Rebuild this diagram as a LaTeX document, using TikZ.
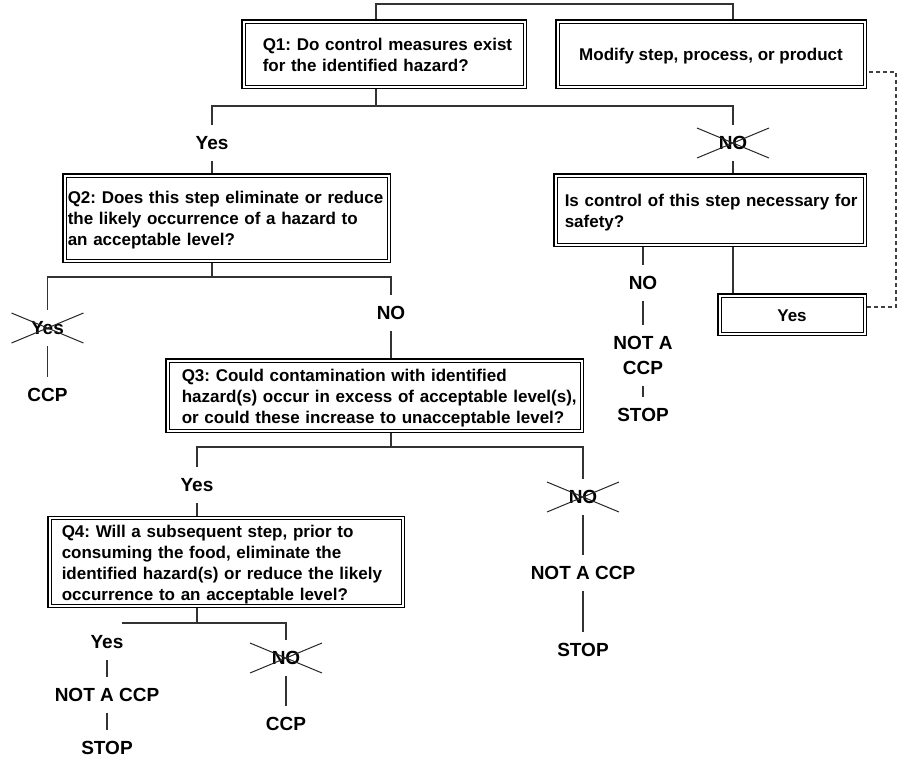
\documentclass[tikz,border=0pt]{standalone}
\usepackage{fontspec}
\setmainfont{Liberation Sans}
\newcommand\boxfont{\fontsize{17}{21}\selectfont\bfseries\frenchspacing}
\newcommand\lblfont{\fontsize{19}{23}\selectfont\bfseries}
\newcommand\lines[1]{\raisebox{-2.5pt}[\height][\depth]{\begin{tabular}{@{}l@{}}#1\end{tabular}}}
\begin{document}
\begin{tikzpicture}[x=1pt,y=-1pt,
  box/.style={draw=black, line width=1.5pt, fill=white, font=\boxfont, align=left,
    path picture={\draw[line width=0.8pt] ([shift={(3.2pt,-3.2pt)}]path picture bounding box.north west) rectangle ([shift={(-3.2pt,3.2pt)}]path picture bounding box.south east);}},
  lbl/.style={font=\lblfont, text height=13.5pt, text depth=0pt, inner xsep=1pt, inner ysep=0pt, minimum height=36pt},
  conn/.style={draw=black!80, line width=1.1pt},
  dashconn/.style={draw=black!75, line width=1.1pt, dash pattern=on 4pt off 3pt},
  xline/.style={draw=black!85, line width=1pt}]
\useasboundingbox (0,0) rectangle (898,758);
\newcommand\crossout[1]{\draw[xline] (#1.center) +(-36,-15) -- +(36,15) +(-36,15) -- +(36,-15);}

% boxes
\node[box, minimum width=284.5pt, minimum height=68.5pt, text width=242.5pt, inner xsep=21pt] (q1) at (384,54)
  {\lines{Q1: Do control measures exist\\for the identified hazard?}};
\node[box, minimum width=310.5pt, minimum height=68.5pt, align=center] (mod) at (711,54)
  {\lines{Modify step, process, or product}};
\node[box, minimum width=327.5pt, minimum height=88.5pt, text width=317.5pt, inner xsep=5pt] (q2) at (226.5,218)
  {\lines{Q2: Does this step eliminate or reduce\\the likely occurrence of a hazard to\\an acceptable level?}};
\node[box, minimum width=312.5pt, minimum height=72.5pt, text width=290.5pt, inner xsep=11pt] (saf) at (710,210)
  {\lines{Is control of this step necessary for\\safety?}};
\node[box, minimum width=148.5pt, minimum height=41.5pt, align=center] (ybox) at (792,314.5) {\lines{Yes}};
\node[box, minimum width=417.5pt, minimum height=73.5pt, text width=385.5pt, inner xsep=16pt] (q3) at (374.5,395.5)
  {\lines{Q3: Could contamination with identified\\hazard(s) occur in excess of acceptable level(s),\\or could these increase to unacceptable level?}};
\node[box, minimum width=356.5pt, minimum height=90.5pt, text width=328.5pt, inner xsep=14pt] (q4) at (226,562)
  {\lines{Q4: Will a subsequent step, prior to\\consuming the food, eliminate the\\identified hazard(s) or reduce the likely\\occurrence to an acceptable level?}};

% labels
\node[lbl] (yes1) at (212,143) {Yes};
\node[lbl] (no1) at (733,143) {NO};
\node[lbl] (yes2) at (47.5,328) {Yes};
\node[lbl] (ccp1) at (47.5,395) {CCP};
\node[lbl] (no2) at (391,313) {NO};
\node[lbl] (no3) at (643,283) {NO};
\node[lbl] (na3) at (643,343) {NOT A};
\node[lbl] (cc3) at (643,368) {CCP};
\node[lbl] (stop3) at (643,415) {STOP};
\node[lbl] (yes3) at (197,485) {Yes};
\node[lbl] (no4) at (583,497) {NO};
\node[lbl] (na4) at (583,573) {NOT A CCP};
\node[lbl] (stop4) at (583,650) {STOP};
\node[lbl] (no5) at (286,658) {NO};
\node[lbl] (ccp5) at (286,724) {CCP};
\node[lbl] (yes4) at (107,642) {Yes};
\node[lbl] (na6) at (107,695) {NOT A CCP};
\node[lbl] (stop6) at (107,748) {STOP};

\crossout{no1}
\crossout{yes2}
\crossout{no4}
\crossout{no5}

% coordinates
\coordinate (t1) at (376,4);
\coordinate (t2) at (733,4);
\coordinate (b1) at (376,106);
\coordinate (b2) at (212,277);
\coordinate (s1) at (733,0);
\coordinate (d0) at (896,307);
\coordinate (d1) at (896,72);
\coordinate (b3) at (391,447);
\coordinate (b4) at (197,623);
\coordinate (e4) at (122,623);

% connectors
\draw[conn] (q1.north -| t1) -- (t1) -- (t2) -- (mod.north -| t2);
\draw[conn] (q1.south -| b1) -- (b1);
\draw[conn] (yes1.north) |- (b1) -| (no1.north);
\draw[conn] (yes1.south) -- (q2.north -| yes1);
\draw[conn] (no1.south) -- (saf.north -| no1);

\draw[conn] (q2.south -| b2) -- (b2);
\draw[conn] (yes2.north) |- (b2) -| (no2.north);
\draw[conn] (yes2.south) -- (ccp1.north);
\draw[conn] (no2.south) -- (q3.north -| no2);

\draw[conn] (saf.south -| no3) -- (no3.north);
\draw[conn] (no3.south) -- (na3.north);
\draw[conn] (cc3.south) -- (stop3.north);
\draw[conn] (saf.south -| s1) -- (ybox.north -| s1);
\draw[dashconn] (ybox.east |- d0) -- (d0) -- (d1) -- (mod.east |- d1);

\draw[conn] (q3.south -| b3) -- (b3);
\draw[conn] (yes3.north) |- (b3) -| (no4.north);
\draw[conn] (yes3.south) -- (q4.north -| yes3);
\draw[conn] (no4.south) -- (na4.north);
\draw[conn] (na4.south) -- (stop4.north);

\draw[conn] (q4.south -| b4) -- (b4);
\draw[conn] (e4) -- (b4) -| (no5.north);
\draw[conn] (no5.south) -- (ccp5.north);
\draw[conn] (yes4.south) -- (na6.north);
\draw[conn] (na6.south) -- (stop6.north);
\end{tikzpicture}
\end{document}
